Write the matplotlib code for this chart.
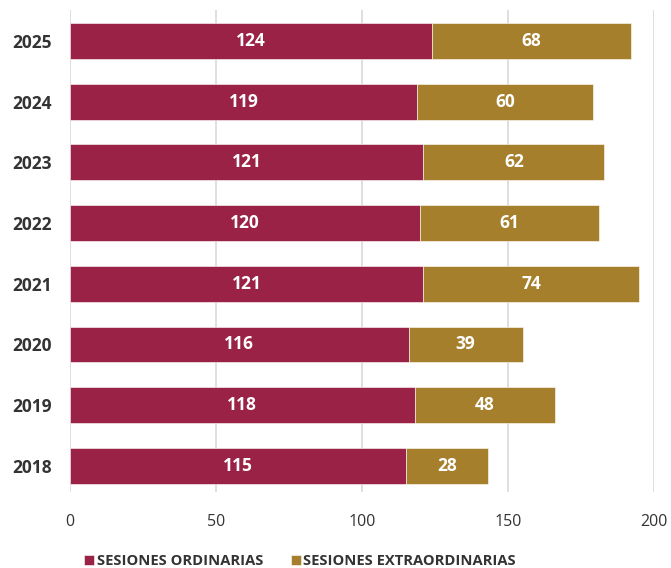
import matplotlib.pyplot as plt
import numpy as np

plt.rcParams['font.family'] = ['Open Sans', 'DejaVu Sans']

years = ['2018', '2019', '2020', '2021', '2022', '2023', '2024', '2025']
ordinarias = [115, 118, 116, 121, 120, 121, 119, 124]
extraordinarias = [28, 48, 39, 74, 61, 62, 60, 68]

c_ord = '#9B2247'
c_ext = '#A57F2C'

fig = plt.figure(figsize=(6.71, 5.68), dpi=100)
ax = fig.add_axes([70/671, 76/568, 584/671, 482/568])

y = np.arange(len(years))
h = 0.59
b1 = ax.barh(y, ordinarias, height=h, color=c_ord, edgecolor='white', linewidth=0.4,
             label='SESIONES ORDINARIAS', zorder=2)
b2 = ax.barh(y, extraordinarias, left=ordinarias, height=h, color=c_ext, edgecolor='white',
             linewidth=0.4, label='SESIONES EXTRAORDINARIAS', zorder=2)

for i in range(len(years)):
    ax.text(ordinarias[i] / 2, y[i], str(ordinarias[i]), ha='center', va='center',
            color='white', fontsize=12.5, fontweight='bold', zorder=3)
    ax.text(ordinarias[i] + extraordinarias[i] / 2, y[i], str(extraordinarias[i]),
            ha='center', va='center', color='white', fontsize=12.5, fontweight='bold', zorder=3)

ax.set_xlim(0, 200)
ax.set_ylim(-0.43, 7.51)
ax.set_xticks([0, 50, 100, 150, 200])
ax.set_yticks(y)
ax.set_yticklabels(years, fontweight='bold', fontsize=12.5, color='#333333')
ax.tick_params(axis='x', length=0, pad=16, labelsize=11.5, labelcolor='#333333')
ax.tick_params(axis='y', length=0, pad=13)
for s in ax.spines.values():
    s.set_visible(False)
ax.grid(axis='x', color='#d9d9d9', linewidth=1.2, zorder=0)
ax.set_axisbelow(True)

leg = fig.legend(handles=[b1, b2], loc='center', bbox_to_anchor=(300/671, 7/568), ncol=2,
                 frameon=False, handlelength=0.7, handleheight=0.7, handletextpad=0.15,
                 columnspacing=1.9, prop={'weight': 'bold', 'size': 10.6})
for t in leg.get_texts():
    t.set_color('#333333')

fig.savefig('out.png', dpi=100)
